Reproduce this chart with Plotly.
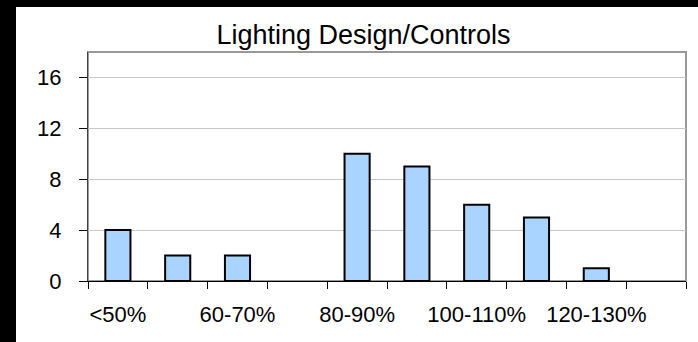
import plotly.graph_objects as go

categories = ["<50%", "50-60%", "60-70%", "70-80%", "80-90%", "90-100%",
              "100-110%", "110-120%", "120-130%", ">130%"]
values = [4, 2, 2, 0, 10, 9, 6, 5, 1, 0]
tick_text = ["<50%", "", "60-70%", "", "80-90%", "", "100-110%", "", "120-130%", ""]
y_ticks = [0, 4, 8, 12, 16]
title_text = "Lighting Design/Controls"

W, H = 698, 342
L, R, T, B = 88, 12, 52, 61
pw, ph = W - L - R, H - T - B

fig = go.Figure(go.Bar(
    x=categories, y=values,
    marker=dict(color="#a8d4ff",
                line=dict(color="black", width=[2 if v > 0 else 0 for v in values])),
    showlegend=False,
))

font = "Arial, Liberation Sans, sans-serif"
fig.update_layout(
    width=W, height=H,
    margin=dict(l=L, r=R, t=T, b=B, autoexpand=False),
    paper_bgcolor="white", plot_bgcolor="white",
    bargap=0.58,
    font=dict(family=font, color="black", size=22),
    title=dict(text=title_text, x=363.5 / W, xanchor="center",
               y=1 - 35 / H, yanchor="middle", yref="container",
               font=dict(size=27, family=font, color="black")),
    xaxis=dict(type="category", tickvals=categories, ticktext=tick_text,
               tickson="boundaries", ticks="outside", ticklen=7, tickcolor="black",
               tickwidth=1, showline=True, linecolor="black", linewidth=1,
               showgrid=False, ticklabelstandoff=14, tickangle=0, automargin=False,
               tickfont=dict(size=22, family=font, color="black")),
    yaxis=dict(range=[0, 18], tickvals=y_ticks, ticks="outside", ticklen=8,
               tickcolor="black", tickwidth=1, showline=True, linecolor="#404040",
               linewidth=1, showgrid=True, gridcolor="#c8c8c8", gridwidth=1,
               zeroline=False, ticklabelstandoff=13, automargin=False,
               tickfont=dict(size=22, family=font, color="black")),
)

def px_x(p):
    return (p - L) / pw

def px_y(p):
    return (H - B - p) / ph

# plot area border (top/right gray)
fig.add_shape(type="rect", xref="paper", yref="paper", x0=0, x1=1, y0=0, y1=1,
              line=dict(color="#999999", width=2), layer="below")
# black strips of the captured image (left and top)
fig.add_shape(type="rect", xref="paper", yref="paper",
              x0=px_x(-2), x1=px_x(16), y0=px_y(H + 2), y1=px_y(-2),
              fillcolor="black", line=dict(width=0))
fig.add_shape(type="rect", xref="paper", yref="paper",
              x0=px_x(-2), x1=px_x(W + 2), y0=px_y(7), y1=px_y(-2),
              fillcolor="black", line=dict(width=0))

fig.write_html("out.html", config={"displayModeBar": False},
               post_script="document.body.style.margin='0';document.body.style.overflow='hidden';")
